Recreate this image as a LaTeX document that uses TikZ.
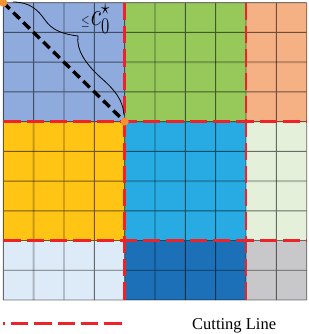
\RequirePackage{fix-cm}
\documentclass[tikz,border=0pt]{standalone}
\usepackage{fontspec}
\setmainfont{Liberation Serif}
\definecolor{cA}{HTML}{8FAADC}
\definecolor{cB}{HTML}{96C85A}
\definecolor{cC}{HTML}{F5B084}
\definecolor{cD}{HTML}{FFC414}
\definecolor{cE}{HTML}{28ABE3}
\definecolor{cF}{HTML}{E4F0DA}
\definecolor{cG}{HTML}{DDEAF7}
\definecolor{cH}{HTML}{1C70B8}
\definecolor{cI}{HTML}{C8C8CA}
\definecolor{cutred}{HTML}{EE2229}
\definecolor{dotorange}{HTML}{F39233}
\begin{document}
\begin{tikzpicture}[x=1pt,y=-1pt,
  gridline/.style={black,line width=0.9pt},
  subline/.style={black,line width=2pt},
  cutline/.style={draw=cutred,line width=2.4pt,dash pattern=on 17.3pt off 6pt},
  diag/.style={black,line width=3.4pt,dash pattern=on 9pt off 5pt},
  dot/.style={circle,fill=dotorange,inner sep=0pt,minimum size=8pt},
  bracepath/.style={black,line width=0.8pt}]
\useasboundingbox (0,0) rectangle (308,334);
\begin{scope}[shift={(3.3,2.7)},x=30.34pt,y=-29.73pt]
  \fill[cA] (0,0) rectangle (4,4);
  \fill[cB] (4,0) rectangle (8,4);
  \fill[cC] (8,0) rectangle (10,4);
  \fill[cD] (0,4) rectangle (4,8);
  \fill[cE] (4,4) rectangle (8,8);
  \fill[cF] (8,4) rectangle (10,8);
  \fill[cG] (0,8) rectangle (4,10);
  \fill[cH] (4,8) rectangle (8,10);
  \fill[cI] (8,8) rectangle (10,10);
  \begin{scope}[transparency group,opacity=0.22]
    \foreach \j in {2,6} \draw[subline] (4,\j) -- (10,\j);
    \draw[subline] (1,4) -- (1,10);
  \end{scope}
  \begin{scope}[transparency group,opacity=0.55]
    \foreach \j in {0,1,3,4,5,7,8,9,10} \draw[gridline] (0,\j) -- (10,\j);
    \foreach \j in {2,6} \draw[gridline] (0,\j) -- (4,\j);
    \foreach \i in {0,2,3,4,5,6,7,8,9,10} \draw[gridline] (\i,0) -- (\i,10);
    \draw[gridline] (1,0) -- (1,4);
  \end{scope}
  \draw[cutline] (4,0) -- (4,10);
  \draw[cutline] (8,0) -- (8,10);
  \draw[cutline] (0,4) -- (10,4);
  \draw[cutline] (0,8) -- (10,8);
  \coordinate (TL) at (0,0);
  \coordinate (C) at (4,4);
\end{scope}
\draw[diag] (TL) -- (C);
\draw[bracepath] (13,2) .. controls (30,2) and (38,10) .. (45,20)
  .. controls (52,30) and (62,34) .. (78,36)
  .. controls (76,50) and (86,64) .. (100,77)
  .. controls (115,90) and (123,100) .. (124,115);
\node[dot] (d1) at (TL) {};
\node[dot] (d2) at (C) {};
\node[anchor=base west,inner sep=0pt] (lbl) at (81,26)
  {\scalebox{1.1}[1.45]{{\fontsize{10}{10}\selectfont$\leq$}\kern1pt{\fontsize{22}{22}\selectfont$c_0^{\star}$}}};
\coordinate (L1) at (3,323.3);
\coordinate (L2) at (123,323.3);
\draw[cutline,dash phase=15.3pt] (L1) -- (L2);
\node[anchor=base west,inner sep=0pt,font=\fontsize{16.5}{16.5}\selectfont] (leg) at (192,329) {Cutting Line};
\end{tikzpicture}
\end{document}
